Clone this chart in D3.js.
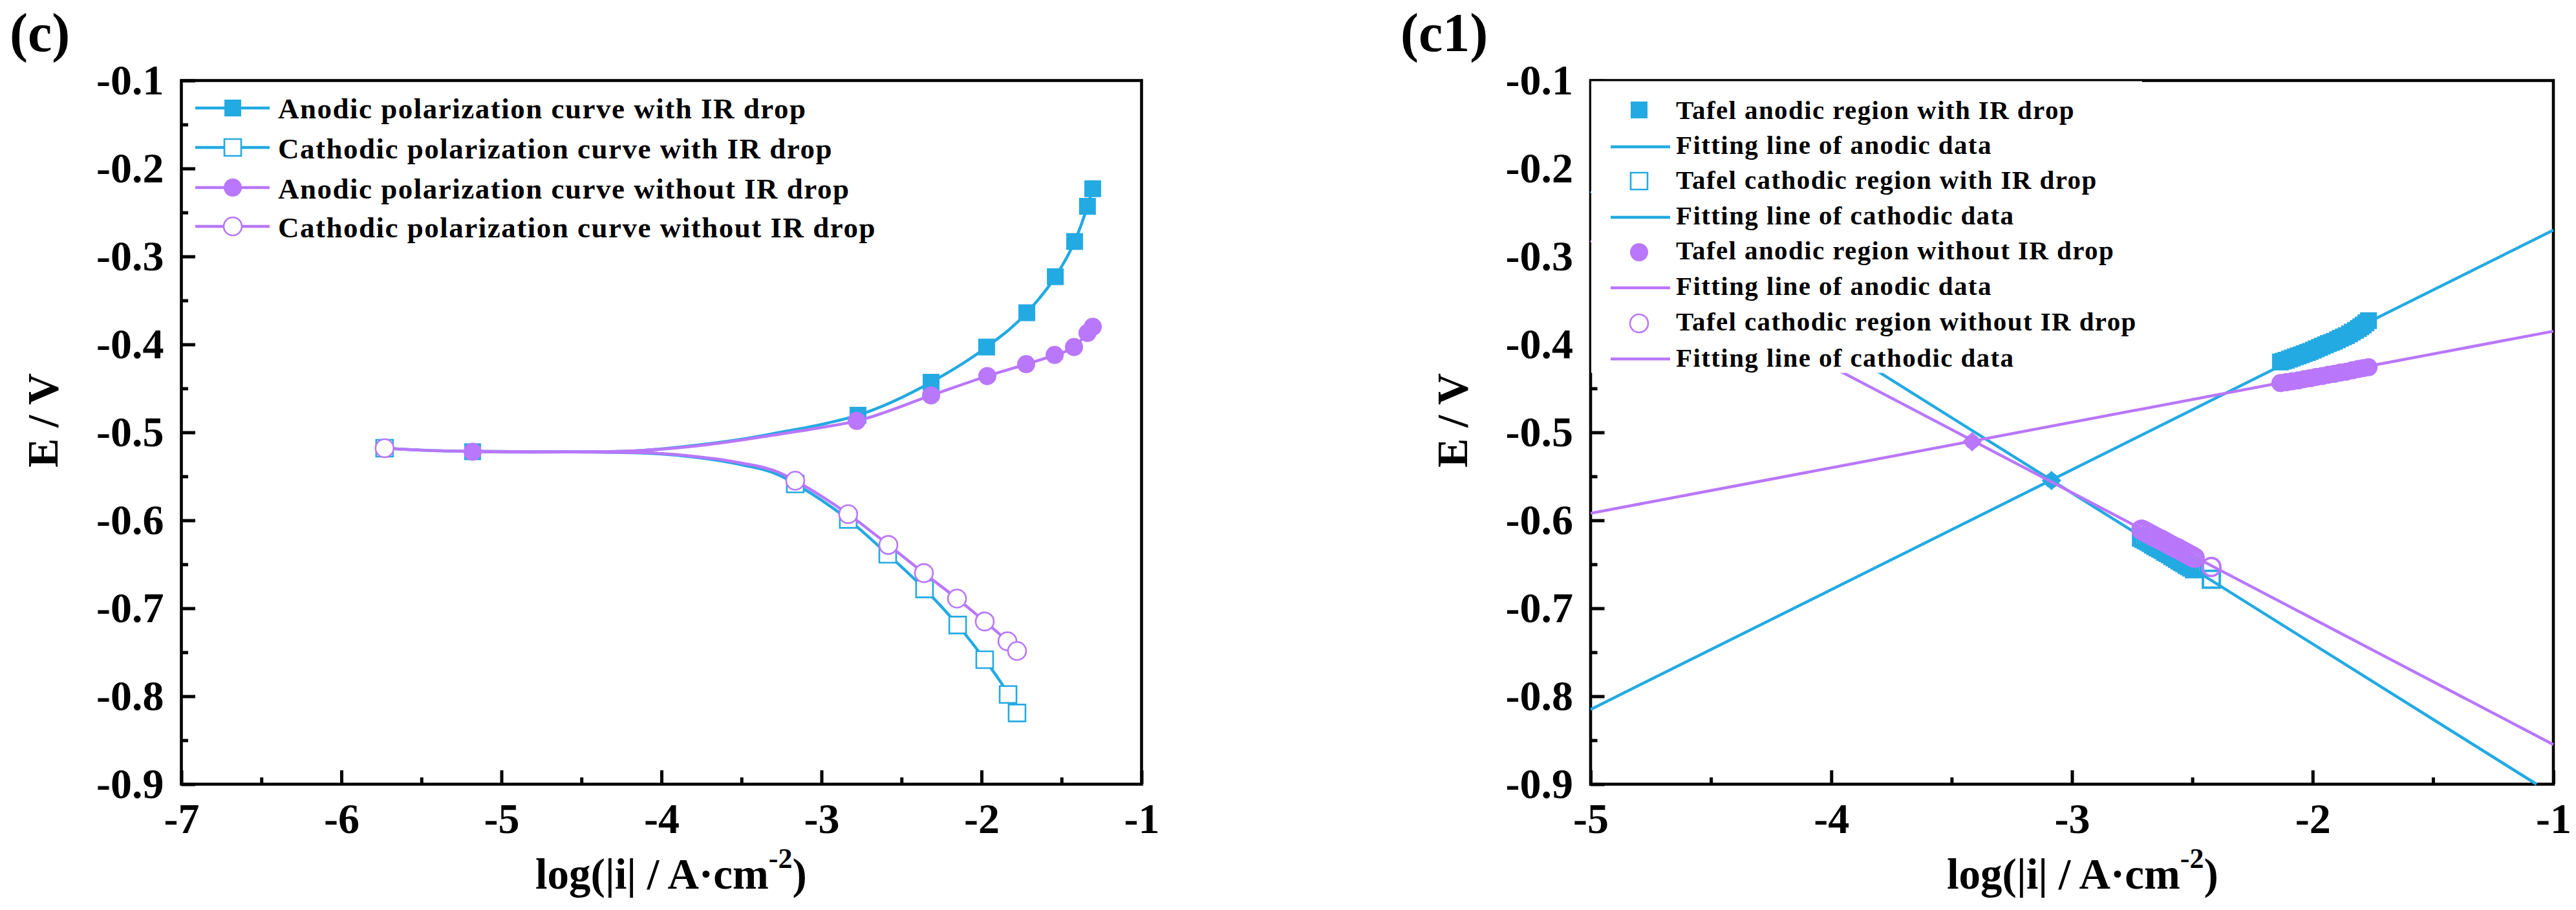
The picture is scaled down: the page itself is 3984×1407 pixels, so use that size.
<!DOCTYPE html>
<html>
<head>
<meta charset="utf-8">
<script src="https://cdn.jsdelivr.net/npm/d3@7"></script>
<style>
body { margin: 0; background: #fff; }
text { font-family: "Liberation Serif", serif; font-weight: bold; fill: #000; }
</style>
</head>
<body>
<svg id="chart" width="3984" height="1407"></svg>
<script>
// shared ticks
var yMajor = [-0.1, -0.2, -0.3, -0.4, -0.5, -0.6, -0.7, -0.8, -0.9];
var yMinor = [-0.15, -0.25, -0.35, -0.45, -0.55, -0.65, -0.75, -0.85];
var xMajorC = [-7, -6, -5, -4, -3, -2, -1];
var xMinorC = [-6.5, -5.5, -4.5, -3.5, -2.5, -1.5];
var xMajorC1 = [-5, -4, -3, -2, -1];
var xMinorC1 = [-4.5, -3.5, -2.5, -1.5];

// panel (c): points with a symbol, then extra points the curve runs through
var anodicIrMarks = [[-5.18, -0.522], [-2.772, -0.4805], [-2.315, -0.443], [-1.968, -0.403], [-1.717, -0.364], [-1.539, -0.323], [-1.418, -0.283], [-1.338, -0.243], [-1.305, -0.223]];
var anodicIrCurve = [[-4.8, -0.5225], [-4.4, -0.522], [-4.12, -0.5205], [-3.78, -0.5145], [-3.51, -0.508], [-3.26, -0.5], [-3.0, -0.491]];
var cathodicIrMarks = [[-5.73, -0.518], [-3.164, -0.5586], [-2.833, -0.599], [-2.586, -0.6386], [-2.356, -0.678], [-2.149, -0.719], [-1.98, -0.7585], [-1.834, -0.798], [-1.778, -0.819]];
var cathodicIrCurve = [[-5.45, -0.5205], [-5.18, -0.5215], [-4.8, -0.522], [-4.4, -0.5225], [-4.12, -0.5235], [-3.78, -0.5285], [-3.51, -0.5365], [-3.26, -0.549]];
var anodicMarks = [[-5.18, -0.522], [-2.78, -0.487], [-2.315, -0.458], [-1.964, -0.436], [-1.721, -0.4225], [-1.543, -0.412], [-1.422, -0.403], [-1.338, -0.387], [-1.305, -0.38]];
var anodicCurve = [[-4.8, -0.5225], [-4.4, -0.522], [-4.12, -0.5205], [-3.78, -0.5155], [-3.51, -0.509], [-3.26, -0.502], [-3.0, -0.4945]];
var cathodicMarks = [[-5.73, -0.518], [-3.164, -0.555], [-2.833, -0.593], [-2.582, -0.628], [-2.36, -0.66], [-2.153, -0.689], [-1.98, -0.715], [-1.838, -0.7375], [-1.778, -0.7485]];
var cathodicCurve = [[-5.45, -0.5205], [-5.18, -0.5215], [-4.8, -0.522], [-4.4, -0.5225], [-4.12, -0.523], [-3.78, -0.5275], [-3.51, -0.5345], [-3.26, -0.546]];

// panel (c1): tafel regions
var tafelAnodicIr = [[-2.134, -0.42], [-2.122, -0.419], [-2.11, -0.418], [-2.097, -0.4167], [-2.085, -0.4155], [-2.072, -0.4142], [-2.06, -0.413], [-2.047, -0.4118], [-2.035, -0.4105], [-2.022, -0.4092], [-2.01, -0.408], [-1.997, -0.4065], [-1.985, -0.405], [-1.972, -0.4035], [-1.96, -0.402], [-1.947, -0.4005], [-1.935, -0.399], [-1.922, -0.3978], [-1.91, -0.3965], [-1.897, -0.3948], [-1.885, -0.393], [-1.872, -0.3915], [-1.86, -0.39], [-1.847, -0.388], [-1.835, -0.386], [-1.822, -0.384], [-1.81, -0.382], [-1.8, -0.38], [-1.79, -0.378], [-1.779, -0.3755], [-1.768, -0.373]];
var tafelAnodic = [[-2.134, -0.444], [-2.11, -0.443], [-2.085, -0.442], [-2.06, -0.441], [-2.035, -0.4395], [-2.01, -0.4385], [-1.985, -0.437], [-1.96, -0.436], [-1.935, -0.4345], [-1.91, -0.4335], [-1.885, -0.432], [-1.86, -0.431], [-1.835, -0.4295], [-1.81, -0.428], [-1.79, -0.427], [-1.768, -0.426]];
var tafelCathodicIr = [[-2.711, -0.619], [-2.701, -0.6205], [-2.691, -0.622], [-2.681, -0.6235], [-2.671, -0.625], [-2.661, -0.627], [-2.651, -0.6285], [-2.641, -0.63], [-2.631, -0.6315], [-2.621, -0.633], [-2.611, -0.635], [-2.601, -0.6365], [-2.591, -0.638], [-2.581, -0.64], [-2.571, -0.6415], [-2.561, -0.643], [-2.551, -0.645], [-2.541, -0.6465], [-2.531, -0.648], [-2.521, -0.65], [-2.511, -0.6515], [-2.501, -0.653], [-2.491, -0.655], [-2.421, -0.667]];
var tafelCathodic = [[-2.711, -0.6107], [-2.701, -0.612], [-2.691, -0.6135], [-2.681, -0.615], [-2.671, -0.6165], [-2.661, -0.618], [-2.651, -0.6195], [-2.641, -0.621], [-2.631, -0.622], [-2.621, -0.6235], [-2.611, -0.625], [-2.601, -0.6265], [-2.591, -0.628], [-2.581, -0.6295], [-2.571, -0.631], [-2.561, -0.632], [-2.551, -0.6335], [-2.541, -0.635], [-2.531, -0.6365], [-2.521, -0.638], [-2.511, -0.6395], [-2.501, -0.641], [-2.491, -0.6425], [-2.421, -0.653]];
var fitAnodicIr = [[-5, -0.815], [-1, -0.27]];
var fitCathodicIr = [[-5, -0.226], [-1.07, -0.9]];
var fitAnodic = [[-5, -0.592], [-1, -0.385]];
var fitCathodic = [[-5, -0.282], [-1, -0.855]];
var corrosionIr = [[-3.085, -0.5548]];
var corrosion = [[-3.415, -0.5106]];

var legendC = [
    "Anodic polarization curve with IR drop",
    "Cathodic polarization curve with IR drop",
    "Anodic polarization curve without IR drop",
    "Cathodic polarization curve without IR drop"
];
var legendC1 = [
    "Tafel anodic region with IR drop",
    "Fitting line of anodic data",
    "Tafel cathodic region with IR drop",
    "Fitting line of cathodic data",
    "Tafel anodic region without IR drop",
    "Fitting line of anodic data",
    "Tafel cathodic region without IR drop",
    "Fitting line of cathodic data"
];

var blue = "#23aae2";
var purple = "#b977fb";
var top_ = 124.5, bottom_ = 1212.5;
var svg = d3.select("#chart");

function byX(a, b) { return a[0] - b[0]; }

function drawAxes(g, x, y, xMajor, xMinor) {
    // frame
    g.append("rect")
        .attr("x", x.range()[0]).attr("y", top_)
        .attr("width", x.range()[1] - x.range()[0]).attr("height", bottom_ - top_)
        .attr("fill", "none").attr("stroke", "#000").attr("stroke-width", 4.6);

    function style(a, size) {
        a.select(".domain").remove();
        a.selectAll("line").attr("stroke", "#000").attr("stroke-width", 5);
        a.selectAll("text").attr("font-size", size);
    }

    g.append("g").attr("transform", "translate(" + x.range()[0] + ",0)")
        .call(d3.axisLeft(y).tickValues(yMajor).tickSize(-21.5).tickPadding(27).tickFormat(String))
        .call(style, 66);
    g.append("g").attr("transform", "translate(" + x.range()[0] + ",0)")
        .call(d3.axisLeft(y).tickValues(yMinor).tickSize(-10.5).tickFormat(""))
        .call(style, 66);
    g.append("g").attr("transform", "translate(0," + bottom_ + ")")
        .call(d3.axisBottom(x).tickValues(xMajor).tickSize(-21.5).tickPadding(29).tickFormat(String))
        .call(style, 66);
    g.append("g").attr("transform", "translate(0," + bottom_ + ")")
        .call(d3.axisBottom(x).tickValues(xMinor).tickSize(-10.5).tickFormat(""))
        .call(style, 66);
}

function drawTitles(g, yBase, xStart) {
    g.append("text")
        .attr("transform", "translate(" + yBase + ",650) rotate(-90)")
        .attr("text-anchor", "middle").attr("font-size", 68)
        .text("E / V");
    var t = g.append("text").attr("x", xStart).attr("y", 1374).attr("font-size", 67);
    t.append("tspan").text("log(|i| / A\u00b7cm");
    t.append("tspan").attr("dy", -32).attr("font-size", 44).text("-2");
    t.append("tspan").attr("dy", 32).text(")");
}

function drawLine(g, x, y, pts, color, curve) {
    var line = d3.line().x(function(d) { return x(d[0]); }).y(function(d) { return y(d[1]); });
    if (curve) line.curve(curve);
    return g.append("path").datum(pts)
        .attr("d", line)
        .attr("fill", "none").attr("stroke", color).attr("stroke-width", 4.5);
}

// shape: "square" or "circle", open markers get fill (white or none)
function marker(sel, shape, color, open, openFill, strokeW) {
    sel.append("path")
        .attr("d", d3.symbol().type(shape == "square" ? d3.symbolSquare : d3.symbolCircle)
            .size(shape == "square" ? 26 * 26 : Math.PI * 14 * 14)())
        .attr("fill", open ? openFill : color)
        .attr("stroke", open ? color : "none")
        .attr("stroke-width", strokeW);
}

function drawMarks(g, x, y, pts, shape, color, open, openFill, strokeW) {
    var s = g.append("g").selectAll("g").data(pts).enter().append("g")
        .attr("transform", function(d) { return "translate(" + x(d[0]) + "," + y(d[1]) + ")"; });
    marker(s, shape, color, open, openFill, strokeW);
}

// ---- panel (c)
function panelC() {
    var g = svg.append("g");
    var x = d3.scaleLinear().domain([-7, -1]).range([280.5, 1765.5]);
    var y = d3.scaleLinear().domain([-0.1, -0.9]).range([top_, bottom_]);

    drawAxes(g, x, y, xMajorC, xMinorC);

    var series = [
        [anodicIrMarks, anodicIrCurve, "square", blue, false],
        [cathodicIrMarks, cathodicIrCurve, "square", blue, true],
        [anodicMarks, anodicCurve, "circle", purple, false],
        [cathodicMarks, cathodicCurve, "circle", purple, true]
    ];
    series.forEach(function(s) {
        drawLine(g, x, y, s[0].concat(s[1]).sort(byX), s[3], d3.curveMonotoneX);
        drawMarks(g, x, y, s[0], s[2], s[3], s[4], "#fff", 2.6);
    });

    var rowY = [167, 228, 290, 350];
    var baseY = [183, 245, 307, 367];
    series.forEach(function(s, i) {
        g.append("line").attr("x1", 302).attr("x2", 417).attr("y1", rowY[i]).attr("y2", rowY[i])
            .attr("stroke", s[3]).attr("stroke-width", 4.5);
        var m = g.append("g").attr("transform", "translate(360," + rowY[i] + ")");
        marker(m, s[2], s[3], s[4], "#fff", 2.6);
        g.append("text").attr("x", 430).attr("y", baseY[i]).attr("font-size", 45)
            .attr("letter-spacing", 1.5).text(legendC[i]);
    });

    drawTitles(g, 89, 828);
    g.append("text").attr("x", 15).attr("y", 79).attr("font-size", 84).text("(c)");
}

// ---- panel (c1)
function panelC1() {
    var g = svg.append("g");
    var x = d3.scaleLinear().domain([-5, -1]).range([2460, 3949]);
    var y = d3.scaleLinear().domain([-0.1, -0.9]).range([top_, bottom_]);

    drawAxes(g, x, y, xMajorC1, xMinorC1);

    var star = d3.symbol().type(d3.symbolDiamond2).size(574)();
    function drawStar(pts, color) {
        g.append("g").selectAll("path").data(pts).enter().append("path")
            .attr("d", star).attr("fill", color)
            .attr("transform", function(d) { return "translate(" + x(d[0]) + "," + y(d[1]) + ")"; });
        g.append("g").selectAll("circle").data(pts).enter().append("circle")
            .attr("r", 11.5).attr("fill", color)
            .attr("cx", function(d) { return x(d[0]); })
            .attr("cy", function(d) { return y(d[1]); });
    }

    drawMarks(g, x, y, tafelAnodicIr, "square", blue, false, "none", 0);
    drawLine(g, x, y, fitAnodicIr, blue);
    drawMarks(g, x, y, tafelCathodicIr, "square", blue, true, "none", 3.8);
    drawLine(g, x, y, fitCathodicIr, blue);
    drawStar(corrosionIr, blue);
    drawMarks(g, x, y, tafelAnodic, "circle", purple, false, "none", 0);
    drawLine(g, x, y, fitAnodic, purple);
    drawMarks(g, x, y, tafelCathodic, "circle", purple, true, "none", 3.8);
    drawLine(g, x, y, fitCathodic, purple);
    drawStar(corrosion, purple);

    // legend box hides the upper part of the lines and the ticks behind it
    g.append("rect").attr("x", 2461).attr("y", 125.5).attr("width", 852).attr("height", 451).attr("fill", "#fff");

    var rowY = [170, 227, 280, 336, 390, 445, 500, 555];
    var baseY = [184, 238, 292, 347, 401, 456, 511, 567];
    var kinds = [
        ["square", blue, false], null,
        ["square", blue, true], null,
        ["circle", purple, false], null,
        ["circle", purple, true], null
    ];
    var lineColors = [null, blue, null, blue, null, purple, null, purple];
    legendC1.forEach(function(label, i) {
        if (kinds[i]) {
            var m = g.append("g").attr("transform", "translate(2535," + rowY[i] + ")");
            marker(m, kinds[i][0], kinds[i][1], kinds[i][2], "#fff", 2.6);
        } else {
            g.append("line").attr("x1", 2491).attr("x2", 2583).attr("y1", rowY[i]).attr("y2", rowY[i])
                .attr("stroke", lineColors[i]).attr("stroke-width", 4.5);
        }
        g.append("text").attr("x", 2592).attr("y", baseY[i]).attr("font-size", 41)
            .attr("letter-spacing", 1.4).text(label);
    });

    drawTitles(g, 2269, 3011);
    g.append("text").attr("x", 2166).attr("y", 79).attr("font-size", 84).text("(c1)");
}

panelC();
panelC1();
</script>
</body>
</html>
